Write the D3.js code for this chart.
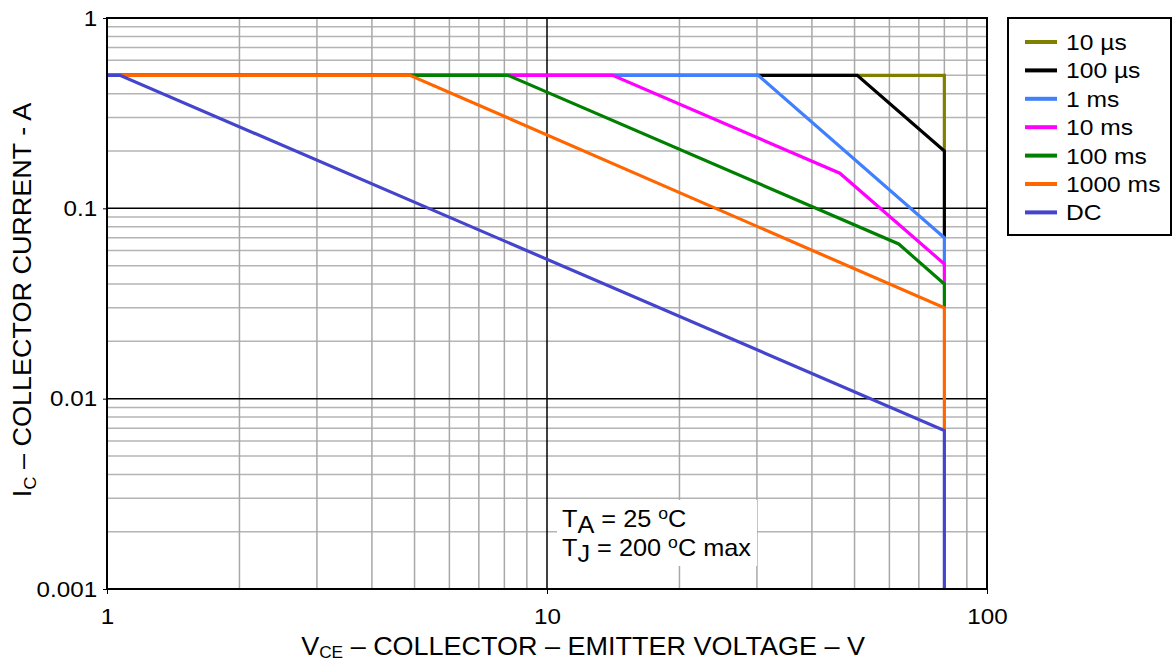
<!DOCTYPE html>
<html>
<head>
<meta charset="utf-8">
<script src="https://cdn.jsdelivr.net/npm/d3@7"></script>
<style>
  body { margin: 0; background: #fff; }
  svg { font-family: Arial, "Liberation Sans", sans-serif; }
</style>
</head>
<body>
<div id="chart"></div>
<script>
// Safe operating area data: [V_CE (V), I_C (A)]
const seriesNames = ["10 µs", "100 µs", "1 ms", "10 ms", "100 ms", "1000 ms", "DC"];
const seriesColors = ["#808000", "#000000", "#4080ff", "#ff00ff", "#008000", "#ff6600", "#4444cc"];

const us10   = [[1, 0.5], [80, 0.5], [80, 0.2]];
const us100  = [[1, 0.5], [50.7, 0.5], [80, 0.2], [80, 0.07]];
const ms1    = [[1, 0.5], [30.2, 0.5], [80, 0.07], [80, 0.05]];
const ms10   = [[1, 0.5], [14.1, 0.5], [46.3, 0.153], [80, 0.051], [80, 0.04]];
const ms100  = [[1, 0.5], [8.15, 0.5], [63, 0.065], [80, 0.04], [80, 0.03]];
const ms1000 = [[1, 0.5], [4.88, 0.5], [80, 0.03], [80, 0.0068]];
const dc     = [[1, 0.5], [1.07, 0.5], [80, 0.0068], [80, 0.001]];

const seriesData = [us10, us100, ms1, ms10, ms100, ms1000, dc];

const xTicks = [1, 10, 100];
const xTickLabels = ["1", "10", "100"];
const yTicks = [1, 0.1, 0.01, 0.001];
const yTickLabels = ["1", "0.1", "0.01", "0.001"];

// Set dimensions
const width = 1174,
      height = 662;
const plot = { left: 107, right: 987, top: 18, bottom: 589 };

const svg = d3.select("#chart")
  .append("svg")
  .attr("width", width)
  .attr("height", height);

const x = d3.scaleLog().domain([1, 100]).range([plot.left, plot.right]);
const y = d3.scaleLog().domain([0.001, 1]).range([plot.bottom, plot.top]);

// Minor grid lines (2..9 in every decade)
const minorX = [];
[1, 10].forEach(d => { for (let k = 2; k <= 9; k++) minorX.push(d * k); });
const minorY = [];
[0.001, 0.01, 0.1].forEach(d => { for (let k = 2; k <= 9; k++) minorY.push(d * k); });

svg.append("g")
  .selectAll("line")
  .data(minorY)
  .enter()
  .append("line")
  .attr("x1", plot.left).attr("x2", plot.right)
  .attr("y1", d => y(d)).attr("y2", d => y(d))
  .attr("stroke", "#b4b4b4")
  .attr("stroke-width", 1.5);

svg.append("g")
  .selectAll("line")
  .data(minorX)
  .enter()
  .append("line")
  .attr("x1", d => x(d)).attr("x2", d => x(d))
  .attr("y1", plot.top).attr("y2", plot.bottom)
  .attr("stroke", "#a8a8a8")
  .attr("stroke-width", 1.5);

// Major grid lines
svg.append("g")
  .selectAll("line")
  .data([0.1, 0.01])
  .enter()
  .append("line")
  .attr("x1", plot.left).attr("x2", plot.right)
  .attr("y1", d => y(d)).attr("y2", d => y(d))
  .attr("stroke", "#000")
  .attr("stroke-width", 1.5);

svg.append("line")
  .attr("x1", x(10)).attr("x2", x(10))
  .attr("y1", plot.top).attr("y2", plot.bottom)
  .attr("stroke", "#000")
  .attr("stroke-width", 1.5);

// Annotation background
const note = svg.append("g");
note.append("rect")
  .attr("x", 557).attr("y", 500)
  .attr("width", 200).attr("height", 66)
  .attr("fill", "#fff");

// Curves
const line = d3.line()
  .x(d => x(d[0]))
  .y(d => y(d[1]));

svg.append("g")
  .selectAll("path")
  .data(seriesData)
  .enter()
  .append("path")
  .attr("d", line)
  .attr("fill", "none")
  .attr("stroke", (d, i) => seriesColors[i])
  .attr("stroke-width", 3.2)
  .attr("stroke-linejoin", "miter");

// Plot frame
svg.append("rect")
  .attr("x", plot.left).attr("y", plot.top)
  .attr("width", plot.right - plot.left)
  .attr("height", plot.bottom - plot.top)
  .attr("fill", "none")
  .attr("stroke", "#000")
  .attr("stroke-width", 2);

// Axes (text slightly widened to match the source lettering)
const yAxis = svg.append("g")
  .attr("transform", `translate(${plot.left},0)`)
  .call(d3.axisLeft(y).tickValues(yTicks).tickSize(4).tickFormat((d, i) => yTickLabels[i]));
yAxis.select(".domain").remove();
yAxis.selectAll("text")
  .attr("x", -9)
  .attr("transform", "scale(1.1,1)")
  .style("font-size", "22px")
  .style("font-family", "Arial, 'Liberation Sans', sans-serif")
  .attr("fill", "#000");

const xAxis = svg.append("g")
  .attr("transform", `translate(0,${plot.bottom})`)
  .call(d3.axisBottom(x).tickValues(xTicks).tickSize(5).tickFormat((d, i) => xTickLabels[i]));
xAxis.select(".domain").remove();
xAxis.selectAll(".tick text")
  .attr("y", 19)
  .attr("transform", "scale(1.1,1)")
  .style("font-size", "22px")
  .style("font-family", "Arial, 'Liberation Sans', sans-serif")
  .attr("fill", "#000");

// Axis titles
const xTitle = svg.append("text")
  .attr("transform", `translate(${(plot.left + plot.right) / 2 + 36},655) scale(1.08,1)`)
  .attr("text-anchor", "middle")
  .style("font-size", "25px");
xTitle.append("tspan").text("V");
xTitle.append("tspan").text("CE").style("font-size", "16px").attr("dy", 3);
xTitle.append("tspan").text(" – COLLECTOR – EMITTER VOLTAGE – V").attr("dy", -3);

const yTitle = svg.append("text")
  .attr("transform", "translate(31,300) rotate(-90) scale(1.08,1)")
  .attr("text-anchor", "middle")
  .style("font-size", "25px");
yTitle.append("tspan").text("I");
yTitle.append("tspan").text("C").style("font-size", "17px").attr("dy", 5);
yTitle.append("tspan").text(" – COLLECTOR CURRENT - A").attr("dy", -5);

// Conditions note
const t1 = note.append("text")
  .attr("transform", "translate(562,527) scale(1.1,1)")
  .style("font-size", "23px");
t1.append("tspan").text("T");
t1.append("tspan").text("A").attr("dy", 6);
t1.append("tspan").text(" = 25 ").attr("dy", -6);
t1.append("tspan").text("o").style("font-size", "16px").attr("dy", -8);
t1.append("tspan").text("C").attr("dy", 8);

const t2 = note.append("text")
  .attr("transform", "translate(562,556) scale(1.1,1)")
  .style("font-size", "23px");
t2.append("tspan").text("T");
t2.append("tspan").text("J").attr("dy", 6);
t2.append("tspan").text(" = 200 ").attr("dy", -6);
t2.append("tspan").text("o").style("font-size", "16px").attr("dy", -8);
t2.append("tspan").text("C max").attr("dy", 8);

// Legend
const legend = svg.append("g");
legend.append("rect")
  .attr("x", 1008).attr("y", 18)
  .attr("width", 163).attr("height", 217)
  .attr("fill", "#fff")
  .attr("stroke", "#000")
  .attr("stroke-width", 2);

const legendItems = legend.selectAll(".legend-item")
  .data(seriesNames)
  .enter()
  .append("g")
  .attr("class", "legend-item")
  .attr("transform", (d, i) => `translate(1025, ${42 + i * 28.4})`);

legendItems.append("line")
  .attr("x1", 0).attr("x2", 32)
  .attr("stroke", (d, i) => seriesColors[i])
  .attr("stroke-width", 4);

legendItems.append("text")
  .attr("transform", "translate(41,8) scale(1.12,1)")
  .text(d => d)
  .style("font-size", "22px");
</script>
</body>
</html>
